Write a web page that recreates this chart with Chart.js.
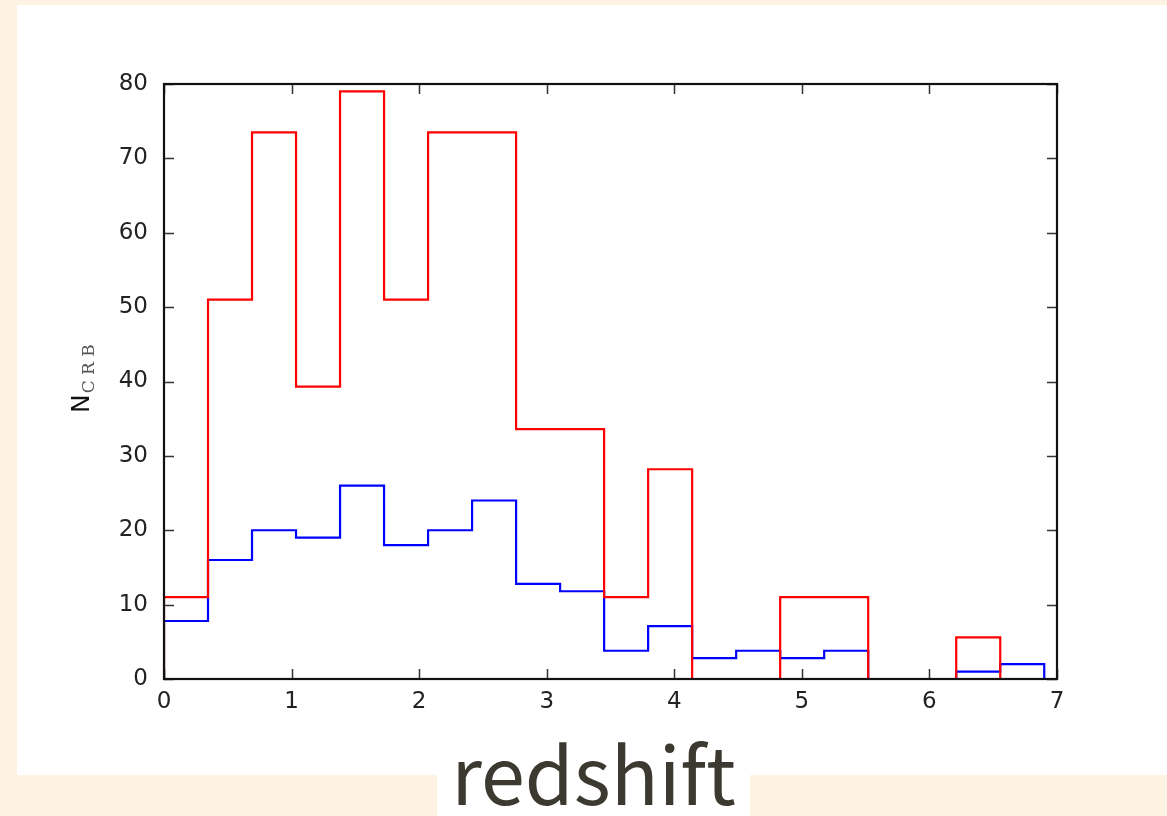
<!DOCTYPE html>
<html>
<head>
<meta charset="utf-8">
<script src="https://cdn.jsdelivr.net/npm/chart.js@4"></script>
<style>
  html, body { margin: 0; padding: 0; }
  body { width: 1167px; height: 816px; background: #fef3e2; position: relative; overflow: hidden; }
  #panel { position: absolute; left: 17px; top: 5px; width: 1150px; height: 770px; background: #fff; }
  #labelBox { position: absolute; left: 437px; top: 775px; width: 313px; height: 41px; background: #fff; }
  #xlabel { position: absolute; left: 437px; top: 721px; width: 313px; text-align: center;
            font-family: "Noto Sans CJK JP", "Noto Sans", sans-serif; font-size: 79px; color: #3b3930; line-height: 100px; }
  #wrap { position: absolute; left: 0; top: 0; width: 1167px; height: 816px; }
</style>
</head>
<body>
<div id="panel"></div>
<div id="labelBox"></div>
<div id="wrap"><canvas id="chart"></canvas></div>
<div id="xlabel">redshift</div>
<script>
/* histogram of NCRB vs redshift, two step outlines */

// left edges of the 20 bins, plus the closing edge
const binEdges = [0, 0.345, 0.69, 1.035, 1.38, 1.725, 2.07, 2.415, 2.76, 3.105,
                  3.45, 3.795, 4.14, 4.485, 4.83, 5.175, 5.52, 5.865, 6.21, 6.555, 6.9];
const redCounts  = [11, 51, 73.5, 39.3, 79, 51, 73.5, 73.5, 33.6, 33.6,
                    11, 28.2, 0, 0, 11, 11, 0, 0, 5.6, 0];
const blueCounts = [7.8, 16, 20, 19, 26, 18, 20, 24, 12.8, 11.8,
                    3.8, 7.1, 2.8, 3.8, 2.8, 3.8, 0, 0, 1, 2];
const xTicks = [0, 1, 2, 3, 4, 5, 6, 7];
const yTicks = [0, 10, 20, 30, 40, 50, 60, 70, 80];

function stepPoints(counts) {
    const pts = [{ x: binEdges[0], y: 0 }];
    counts.forEach((c, i) => pts.push({ x: binEdges[i], y: c }));
    pts.push({ x: binEdges[binEdges.length - 1], y: 0 });
    return pts;
}

const frame = {
    id: 'frame',
    afterDatasetsDraw(chart) {
        const { ctx, chartArea: a, scales } = chart;
        ctx.save();
        ctx.strokeStyle = '#333';
        ctx.lineWidth = 1.5;
        const tl = 10;
        ctx.beginPath();
        xTicks.forEach(v => {
            const px = Math.round(scales.x.getPixelForValue(v)) + 0.5;
            ctx.moveTo(px, a.bottom); ctx.lineTo(px, a.bottom - tl);
            ctx.moveTo(px, a.top); ctx.lineTo(px, a.top + tl);
        });
        yTicks.forEach(v => {
            const py = Math.round(scales.y.getPixelForValue(v)) + 0.5;
            ctx.moveTo(a.left, py); ctx.lineTo(a.left + tl, py);
            ctx.moveTo(a.right, py); ctx.lineTo(a.right - tl, py);
        });
        ctx.stroke();
        ctx.strokeStyle = '#111';
        ctx.lineWidth = 2.2;
        ctx.strokeRect(a.left, a.top, a.right - a.left, a.bottom - a.top);

        // y axis label N with CRB subscript
        ctx.translate(89, 413);
        ctx.rotate(-Math.PI / 2);
        ctx.fillStyle = '#111';
        ctx.textBaseline = 'alphabetic';
        ctx.textAlign = 'left';
        ctx.font = '25px "DejaVu Sans"';
        ctx.fillText('N', 0, 0);
        const nw = ctx.measureText('N').width;
        ctx.fillStyle = '#555';
        ctx.font = '17px "DejaVu Serif"';
        ctx.fillText('C R B', nw + 1, 5);
        ctx.restore();
    }
};

new Chart(document.getElementById('chart'), {
    type: 'line',
    data: {
        datasets: [
            { label: 'all', data: stepPoints(redCounts), borderColor: '#ff0000', borderWidth: 2.2,
              stepped: true, pointRadius: 0, fill: false },
            { label: 'sub', data: stepPoints(blueCounts), borderColor: '#0000ff', borderWidth: 2.2,
              stepped: true, pointRadius: 0, fill: false }
        ]
    },
    options: {
        responsive: true, maintainAspectRatio: false, animation: false,
        layout: { padding: { left: 0, top: 84, right: 110, bottom: 0 } },
        plugins: { legend: { display: false }, tooltip: { enabled: false } },
        scales: {
            x: {
                type: 'linear', min: 0, max: 7,
                afterFit: s => { s.height = 137; },
                afterBuildTicks: s => { s.ticks = xTicks.map(v => ({ value: v })); },
                grid: { display: false }, border: { display: false },
                ticks: { padding: 1, color: '#222', font: { family: 'DejaVu Sans', size: 23 }, maxRotation: 0 }
            },
            y: {
                min: 0, max: 80,
                afterFit: s => { s.width = 164; },
                afterBuildTicks: s => { s.ticks = yTicks.map(v => ({ value: v })); },
                grid: { display: false }, border: { display: false },
                ticks: { padding: 8, color: '#222', font: { family: 'DejaVu Sans', size: 23 } }
            }
        }
    },
    plugins: [frame]
});
</script>
</body>
</html>
